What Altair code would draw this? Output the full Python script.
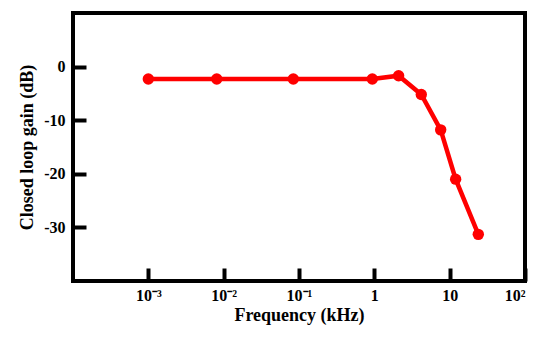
import altair as alt
import pandas as pd

freq_khz = [0.001, 0.0081, 0.084, 0.94, 2.1, 4.2, 7.6, 12.0, 24.0]
gain_db = [-2.3, -2.3, -2.3, -2.3, -1.7, -5.2, -11.8, -21.0, -31.3]
x_ticks = [0.001, 0.01, 0.1, 1, 10, 100]
x_tick_labels = ["10⁻³", "10⁻²", "10⁻¹", "1", "10", "10²"]
y_ticks = [-30, -20, -10, 0]

df = pd.DataFrame({"f": freq_khz, "g": gain_db})

label_expr = " : ".join(
    f"datum.value < {v * 1.5} ? '{lab}'" for v, lab in zip(x_ticks[:-1], x_tick_labels[:-1])
) + f" : '{x_tick_labels[-1]}'"

FONT = "Liberation Serif"

x = alt.X(
    "f:Q",
    scale=alt.Scale(type="log", domain=[0.0001, 100]),
    axis=alt.Axis(
        title="Frequency (kHz)",
        values=x_ticks,
        labelExpr=label_expr,
        domain=False,
        grid=False,
        offset=-13,
        tickSize=13,
        tickWidth=4,
        tickColor="black",
        labelPadding=6,
        labelFont=FONT,
        labelFontSize=16,
        labelFontWeight="bold",
        labelColor="black",
        titleFont=FONT,
        titleFontSize=18,
        titleFontWeight="bold",
        titleColor="black",
        titlePadding=3,
    ),
)
y = alt.Y(
    "g:Q",
    scale=alt.Scale(domain=[-40, 10]),
    axis=alt.Axis(
        title="Closed loop gain (dB)",
        values=y_ticks,
        labelExpr="replace(datum.label, '−', '-')",
        domain=False,
        grid=False,
        offset=-13,
        tickSize=13,
        tickWidth=4,
        tickColor="black",
        labelPadding=8,
        labelFont=FONT,
        labelFontSize=16,
        labelFontWeight="bold",
        labelColor="black",
        titleFont=FONT,
        titleFontSize=18,
        titleFontWeight="bold",
        titleColor="black",
        titlePadding=7,
    ),
)

base = alt.Chart(df).encode(x=x, y=y)
line = base.mark_line(color="#ff0000", strokeWidth=4.5)
pts = base.mark_circle(color="#ff0000", size=130, opacity=1)

chart = (
    (line + pts)
    .properties(
        width=452,
        height=268,
        autosize=alt.AutoSizeParams(type="none"),
        padding={"left": 65, "top": 5, "right": 10, "bottom": 48},
        background="white",
    )
    .configure_view(stroke="black", strokeWidth=4)
)

chart.save("out.html", embed_options={"renderer": "svg", "actions": False})
